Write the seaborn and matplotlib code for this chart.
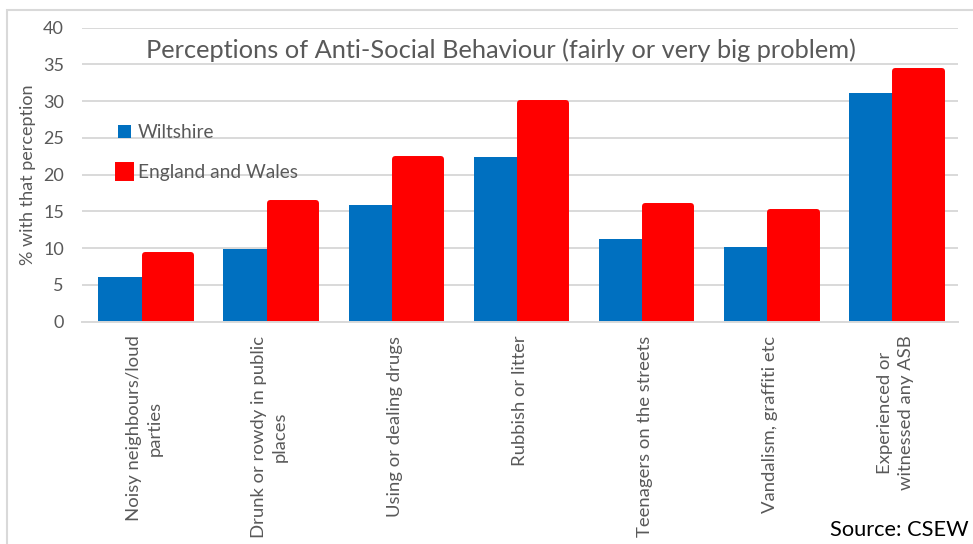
import pandas as pd
import seaborn as sns
from matplotlib import pyplot as plt
from matplotlib.patches import Rectangle

categories = [
    "Noisy neighbours/loud\nparties",
    "Drunk or rowdy in public\nplaces",
    "Using or dealing drugs",
    "Rubbish or litter",
    "Teenagers on the streets",
    "Vandalism, graffiti etc",
    "Experienced or\nwitnessed any ASB",
]
wiltshire = [6.1, 9.9, 15.9, 22.4, 11.2, 10.2, 31.1]
england_wales = [9.1, 16.1, 22.2, 29.8, 15.8, 14.9, 34.1]
series = ["Wiltshire", "England and Wales"]
colors = ["#0070c0", "#ff0000"]

df = pd.DataFrame({
    "category": categories * 2,
    "value": wiltshire + england_wales,
    "area": [series[0]] * len(categories) + [series[1]] * len(categories),
})

sns.set_theme(style="white")
plt.rcParams['font.family'] = ['Lato', 'DejaVu Sans']
grey = "#595959"

fig = plt.figure(figsize=(9.73, 5.44), dpi=100)
ax = fig.add_axes([0.0843, 0.4086, 0.9003, 0.5404])

sns.barplot(data=df, x="category", y="value", hue="area", hue_order=series,
            palette=dict(zip(series, colors)), saturation=1, width=0.74,
            legend=False, ax=ax)

# red bars have a thick rounded outline, like the excel original
for bar in ax.containers[1]:
    bar.set_edgecolor(colors[1])
    bar.set_linewidth(4.3)
    bar.set_joinstyle("round")
for bar in ax.containers[0]:
    bar.set_linewidth(0)

ax.set_xlim(-0.5, 6.5)
ax.set_ylim(0, 40)
ax.set_yticks(range(0, 41, 5))
ax.yaxis.grid(True, color="#d9d9d9", linewidth=1.4)
ax.set_axisbelow(True)
for side in ["top", "right", "left"]:
    ax.spines[side].set_visible(False)
ax.spines["bottom"].set_color("#d9d9d9")
ax.spines["bottom"].set_linewidth(1.4)

ax.tick_params(axis="y", length=0, pad=13, labelsize=13, labelcolor=grey)
ax.tick_params(axis="x", length=0, pad=10, labelsize=13.3, labelcolor=grey)
ax.set_xticks(range(len(categories)))
ax.set_xticklabels(categories, rotation=90, ha="center", va="top",
                   multialignment="center", linespacing=1.35)
ax.set_xlabel("")
ax.set_ylabel("% with that perception", fontsize=13, color=grey, labelpad=5)

ax.text(0.478, 0.922, "Perceptions of Anti-Social Behaviour (fairly or very big problem)",
        transform=ax.transAxes, ha="center", va="center", fontsize=18.3, color=grey)

ax.legend(ax.containers, series, loc="upper left", bbox_to_anchor=(0.021, 0.73),
          frameon=False, fontsize=13.8, labelcolor=grey, handlelength=0.7,
          handleheight=0.7, handletextpad=0.35, labelspacing=1.2)

fig.text(0.995, 0.008, "Source: CSEW", ha="right", va="bottom", fontsize=15.7, color="black")

fig.add_artist(Rectangle((7 / 973, -0.1), 1.2, 1.0816, transform=fig.transFigure,
                         fill=False, edgecolor="#d9d9d9", linewidth=1.5, clip_on=False))

fig.savefig("out.png", dpi=100)
plt.close()
